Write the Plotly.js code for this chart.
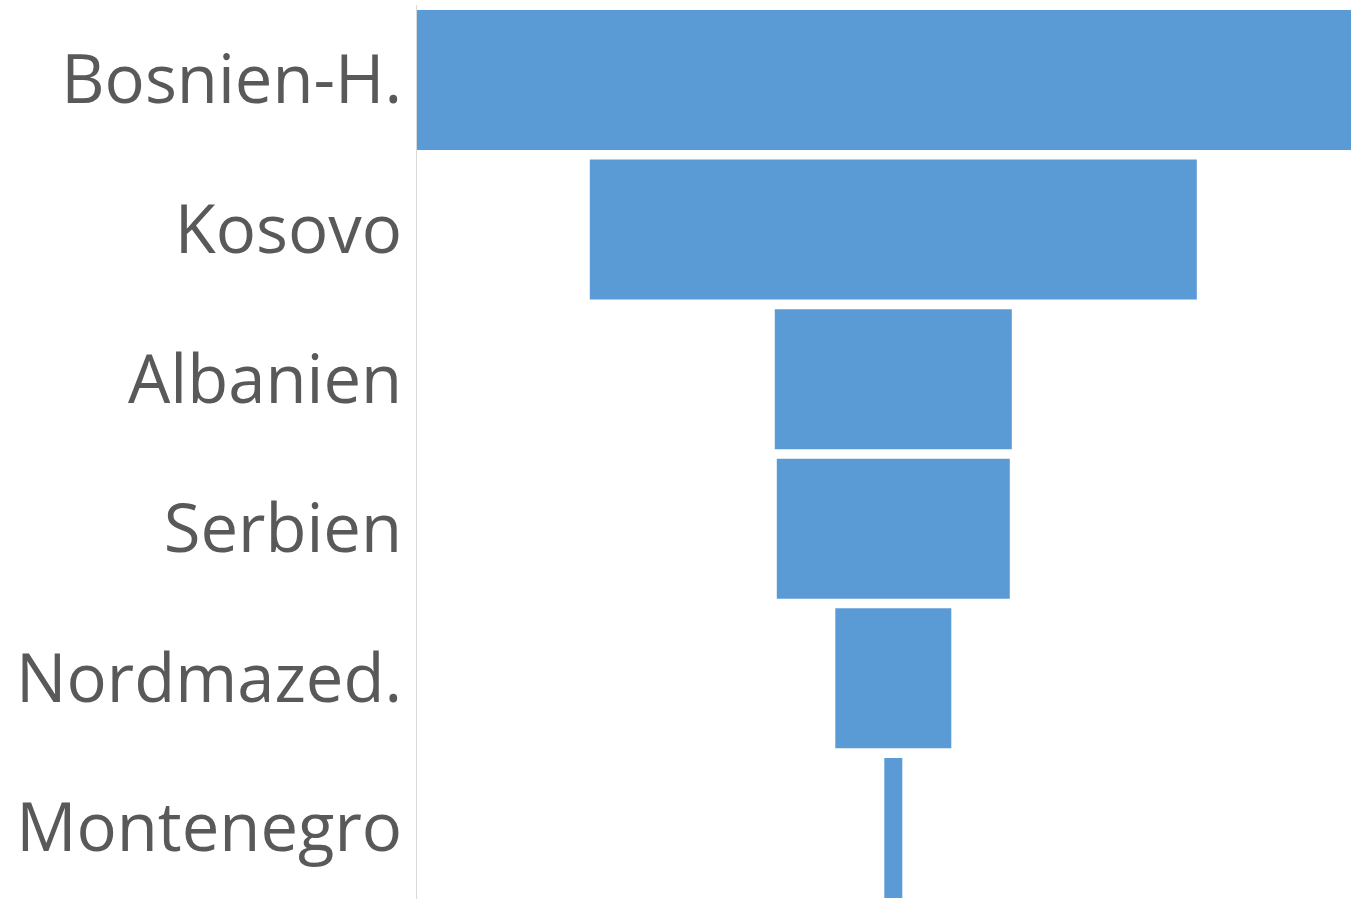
<!DOCTYPE html>
<html>
<head>
<meta charset="utf-8">
<script src="https://cdn.plot.ly/plotly-3.0.1.min.js"></script>
<style>html,body{margin:0;padding:0;background:#fff;}#chart{width:1351px;height:899px;}</style>
</head>
<body>
<div id="chart"></div>
<script>
const categories = ["Bosnien-H.", "Kosovo", "Albanien", "Serbien", "Nordmazed.", "Montenegro"];
const values = [953, 607, 237, 233, 116, 18];

const trace = {
  type: "funnel",
  orientation: "h",
  y: categories,
  x: values,
  textinfo: "none",
  hoverinfo: "y+x",
  marker: { color: "#5B9BD5", line: { width: 0 } },
  connector: { visible: false }
};

const layout = {
  width: 1351,
  height: 899,
  margin: { l: 417, r: 0, t: 5, b: 0, pad: 0 },
  paper_bgcolor: "#ffffff",
  plot_bgcolor: "#ffffff",
  showlegend: false,
  funnelgap: 0.064,
  xaxis: {
    range: [-476.3, 457.7],
    autorange: false,
    visible: false,
    showgrid: false,
    zeroline: false
  },
  yaxis: {
    type: "category",
    range: [5.475, -0.501],
    autorange: false,
    showline: true,
    linecolor: "#d9d9d9",
    linewidth: 1.5,
    showgrid: false,
    zeroline: false,
    ticks: "",
    ticklabelstandoff: 0,
    tickfont: { family: "Open Sans, sans-serif", size: 67, color: "#595959" }
  }
};

Plotly.newPlot("chart", [trace], layout, { displayModeBar: false, staticPlot: true });
</script>
</body>
</html>
